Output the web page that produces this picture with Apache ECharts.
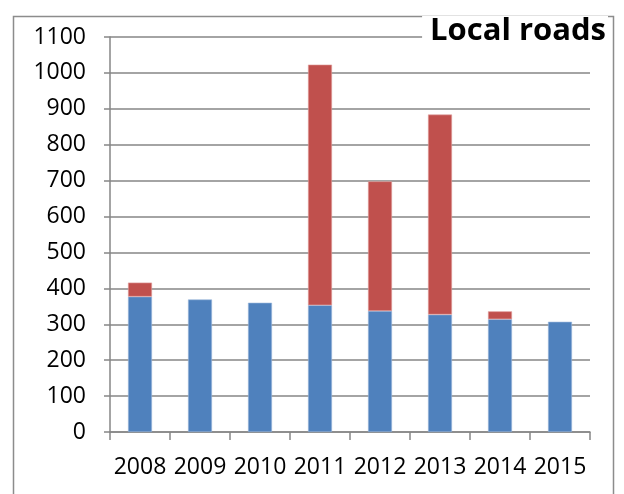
<!DOCTYPE html>
<html><head><meta charset="utf-8">
<script src="https://cdn.jsdelivr.net/npm/echarts@6/dist/echarts.min.js"></script>
<style>html,body{margin:0;padding:0;background:#fff}#c{width:624px;height:494px}</style>
</head><body><div id="c"></div>
<script>
const years = ['2008','2009','2010','2011','2012','2013','2014','2015'];
const blueValues = [377, 369, 360, 353, 337, 327, 314, 307];
const redValues = [39, 0, 0, 670, 361, 557, 22, 0];
const yTicks = [0, 100, 1100];
const titleText = 'Local roads';

const chart = echarts.init(document.getElementById('c'), null, {renderer: 'canvas'});
const font = 'Open Sans';
chart.setOption({
  animation: false,
  backgroundColor: '#fff',
  grid: {left: 110, right: 34, top: 37, bottom: 62},
  graphic: [
    {type: 'rect', shape: {x: 13.5, y: 16.5, width: 600, height: 500}, style: {fill: 'none', stroke: '#8c8c8c', lineWidth: 1.5}, z: 0},
    {type: 'text', right: 16, top: 16, style: {text: titleText, font: 'bold 31px "Open Sans"', fill: '#000', backgroundColor: '#fff', padding: [0, 2, 0, 8]}, z: 100}
  ],
  xAxis: {
    type: 'category', data: years,
    axisLine: {lineStyle: {color: '#868686', width: 1.5}},
    axisTick: {show: true, interval: 0, length: 8, lineStyle: {color: '#868686', width: 1.5}},
    axisLabel: {color: '#000', fontFamily: font, fontSize: 23, margin: 24, interval: 0}
  },
  yAxis: {
    type: 'value', min: yTicks[0], max: yTicks[2], interval: yTicks[1],
    axisLine: {show: true, lineStyle: {color: '#868686', width: 1.5}},
    axisTick: {show: true, length: 6, lineStyle: {color: '#868686', width: 1.5}},
    splitLine: {lineStyle: {color: '#868686', width: 1.5}},
    axisLabel: {color: '#000', fontFamily: font, fontSize: 23, margin: 24, formatter: v => String(v)}
  },
  series: [
    {type: 'bar', stack: 'a', data: blueValues.map(v => v || null), barWidth: '40%', itemStyle: {color: '#4F81BD', borderColor: '#9db8dc', borderWidth: 0.6}},
    {type: 'bar', stack: 'a', data: redValues.map(v => v || null), barWidth: '40%', itemStyle: {color: '#C0504D', borderColor: '#e0a09e', borderWidth: 0.6}}
  ]
});
</script></body></html>
